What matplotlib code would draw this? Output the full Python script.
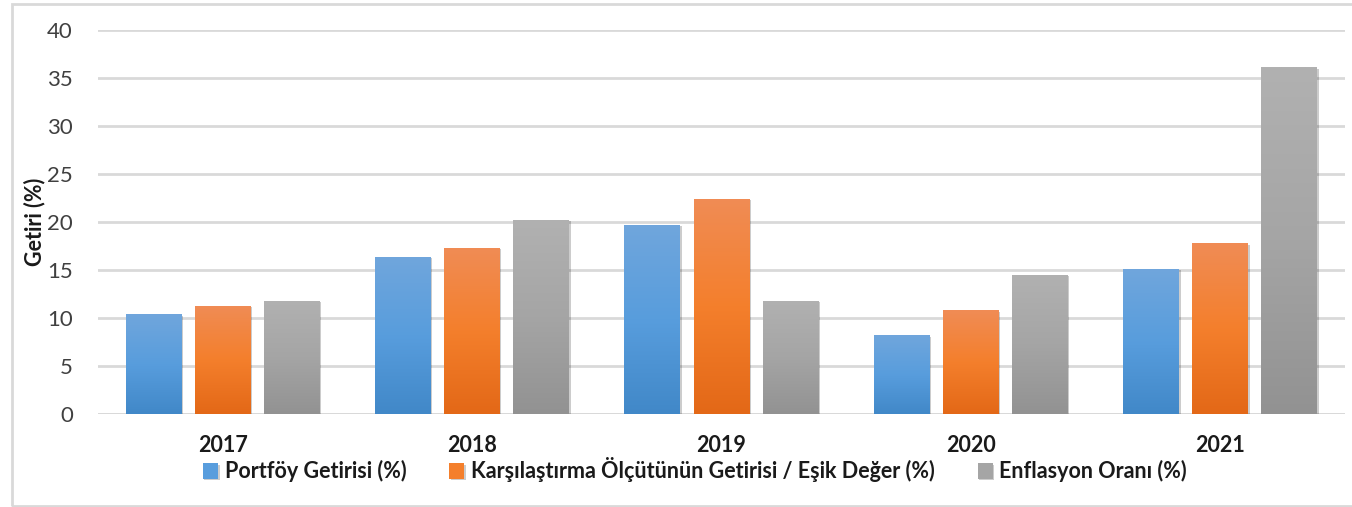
import numpy as np
import matplotlib.pyplot as plt
from matplotlib.colors import LinearSegmentedColormap
from matplotlib.patches import Rectangle
from matplotlib import patheffects as pe

plt.rcParams["font.family"] = ["Lato", "DejaVu Sans"]

years = ["2017", "2018", "2019", "2020", "2021"]
portfoy = [10.4, 16.4, 19.7, 8.2, 15.1]
esik = [11.3, 17.3, 22.4, 10.8, 17.8]
enflasyon = [11.8, 20.2, 11.8, 14.5, 36.1]
series_names = [
    "Portföy Getirisi (%)",
    "Karşılaştırma Ölçütünün Getirisi / Eşik Değer (%)",
    "Enflasyon Oranı (%)",
]

# gradient stops (top, middle, bottom) for each series
gradients = [
    ["#70a6dc", "#589ddd", "#4188c8"],
    ["#f08c55", "#f47f2c", "#e36817"],
    ["#b1b1b1", "#a5a5a5", "#929292"],
]

fig = plt.figure(figsize=(13.52, 5.07), dpi=100)
ax = fig.add_axes([98 / 1352, 1 - 414 / 507, (1345 - 98) / 1352, (414 - 30) / 507])

# outer chart frame
fig.patches.append(Rectangle((12 / 1352, 1 - 506 / 507), 1.0, (506 - 4) / 507,
                             transform=fig.transFigure, fill=False,
                             edgecolor="#d9d9d9", linewidth=2, zorder=0))

x = np.arange(len(years))
width = 0.224
step = 0.277
all_series = [portfoy, esik, enflasyon]

for i, (vals, stops) in enumerate(zip(all_series, gradients)):
    cmap = LinearSegmentedColormap.from_list(f"g{i}", stops[::-1])
    pos = x + (i - 1) * step
    bars = ax.bar(pos, vals, width, color=stops[1], zorder=3, linewidth=0,
                  label=series_names[i])
    grad = np.linspace(0, 1, 256).reshape(-1, 1)
    for b in bars:
        b.set_path_effects([pe.SimplePatchShadow(offset=(1, -1), alpha=0.2,
                                                 shadow_rgbFace="#000000"),
                            pe.Normal()])
        x0, y0 = b.get_x(), b.get_y()
        w, h = b.get_width(), b.get_height()
        im = ax.imshow(grad, cmap=cmap, aspect="auto", origin="lower",
                       extent=[x0, x0 + w, y0, y0 + h], zorder=4)
        im.set_clip_path(b)

ax.set_xlim(-0.5, len(years) - 0.5)
ax.set_ylim(0, 40)
ax.set_yticks(range(0, 41, 5))
ax.set_xticks(x)
ax.set_xticklabels(years, fontsize=15.5, fontweight="bold")
ax.tick_params(axis="y", labelsize=16, length=0, pad=18, colors="#404040")
ax.tick_params(axis="x", length=0, pad=15)
for lbl in ax.get_xticklabels():
    lbl.set_color("#1a1a1a")
ax.grid(axis="y", color="#d9d9d9", linewidth=2, zorder=0)
ax.set_axisbelow(True)
for s in ax.spines.values():
    s.set_visible(False)
ax.axhline(0, color="#d9d9d9", linewidth=2, zorder=2)

ax.set_ylabel("Getiri (%)", fontsize=15.5, fontweight="bold", color="#1a1a1a")
ax.yaxis.set_label_coords(-0.042, 0.5)

handles, labels = ax.get_legend_handles_labels()
leg = fig.legend(handles, labels, loc="center", bbox_to_anchor=(0.514, 1 - 470 / 507),
                 ncol=3, frameon=False, handlelength=0.7, handleheight=0.7,
                 handletextpad=0.3, columnspacing=2.0,
                 prop={"size": 15.5, "weight": "bold"})
for t in leg.get_texts():
    t.set_color("#1a1a1a")

fig.savefig("out.png", dpi=100)
